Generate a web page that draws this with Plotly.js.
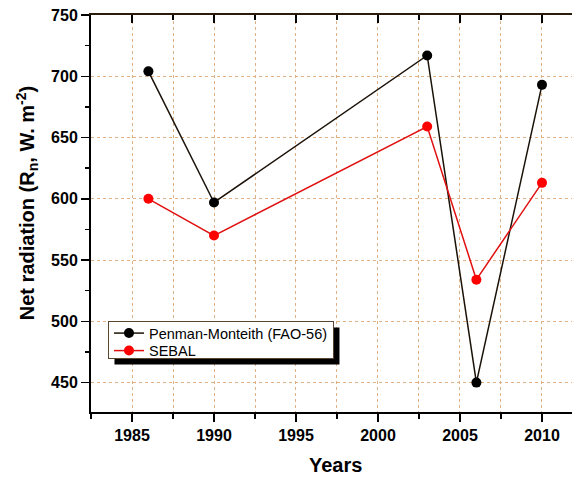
<!DOCTYPE html>
<html>
<head>
<meta charset="utf-8">
<script src="https://cdn.plot.ly/plotly-3.0.1.min.js"></script>
<style>html,body{margin:0;padding:0;background:#fff;overflow:hidden}</style>
</head>
<body>
<div id="chart" style="width:572px;height:477px"></div>
<script>
const years = [1986, 1990, 2003, 2006, 2010];
const penmanMonteith = [704, 597, 717, 450, 693];
const sebal = [600, 570, 659, 534, 613];
const seriesNames = ["Penman-Monteith (FAO-56)", "SEBAL"];
const xTickVals = [1985, 1990, 1995, 2000, 2005, 2010];
const yTickVals = [450, 500, 550, 600, 650, 700, 750];

const FONT = "Arial, 'Liberation Sans', sans-serif";
const GRID = "#deb084";

const traces = [
  {x: years, y: penmanMonteith, name: seriesNames[0], mode: "lines+markers",
   line: {color: "#1a1208", width: 1.5}, marker: {color: "#000", size: 10}},
  {x: years, y: sebal, name: seriesNames[1], mode: "lines+markers",
   line: {color: "#e01010", width: 1.5}, marker: {color: "#ff0000", size: 10}},
  {x: years, y: sebal, xaxis: "x2", mode: "markers", marker: {opacity: 0},
   showlegend: false, hoverinfo: "skip"}
];

const layout = {
  width: 572, height: 477,
  margin: {l: 91, r: 0, t: 15, b: 65},
  paper_bgcolor: "#fff", plot_bgcolor: "#fff",
  font: {family: FONT, color: "#000"},
  showlegend: true,
  xaxis: {
    range: [1982.5, 2011.83], tickvals: xTickVals, ticktext: xTickVals.map(String),
    ticks: "outside", ticklen: 8, tickwidth: 1.5, tickcolor: "#000",
    showline: true, linecolor: "#000", linewidth: 2,
    showgrid: true, gridcolor: GRID, griddash: "dot", gridwidth: 1,
    minor: {dtick: 2.5, tick0: 1982.5, ticks: "outside", ticklen: 4.5, tickwidth: 1.5, tickcolor: "#000",
            showgrid: true, gridcolor: GRID, griddash: "dot", gridwidth: 1},
    tickfont: {family: FONT, size: 16, weight: "bold", color: "#000"},
    zeroline: false
  },
  xaxis2: {
    matches: "x", overlaying: "x", side: "top", anchor: "y",
    tickvals: xTickVals, showticklabels: false,
    ticks: "inside", ticklen: 8, tickwidth: 1.5, tickcolor: "#000",
    minor: {dtick: 2.5, tick0: 1982.5, ticks: "inside", ticklen: 5, tickwidth: 1.5, tickcolor: "#000", showgrid: false},
    showline: true, linecolor: "#2a1c0c", linewidth: 2, showgrid: false, zeroline: false
  },
  yaxis: {
    range: [426, 750], tickvals: yTickVals, ticktext: yTickVals.map(String),
    ticks: "outside", ticklen: 8, tickwidth: 1.5, tickcolor: "#000",
    showline: true, linecolor: "#000", linewidth: 2,
    showgrid: true, gridcolor: GRID, griddash: "dot", gridwidth: 1,
    minor: {dtick: 25, tick0: 425, ticks: "outside", ticklen: 4.5, tickwidth: 1.5, tickcolor: "#000", showgrid: false},
    tickfont: {family: FONT, size: 16, weight: "bold", color: "#000"},
    zeroline: false
  },
  legend: {
    x: 0.0353, y: 0.229, xanchor: "left", yanchor: "top",
    bgcolor: "#fff", bordercolor: "#5a4630", borderwidth: 1,
    font: {family: FONT, size: 14.5, color: "#000"},
    tracegroupgap: 0
  },
  annotations: [
    {text: "Net radiation (R<sub>n</sub>, W. m<sup>-2</sup>)", textangle: -90,
     xref: "paper", yref: "paper", x: -0.133, y: 0.526, xanchor: "center", yanchor: "middle",
     showarrow: false, font: {family: FONT, size: 20, weight: "bold", color: "#000"}},
    {text: "Years", xref: "paper", yref: "paper", x: 0.509, y: -0.1335,
     xanchor: "center", yanchor: "middle", showarrow: false,
     font: {family: FONT, size: 20, weight: "bold", color: "#000"}}
  ]
};

function compactLegend(gd) {
  const leg = gd.querySelector(".legend");
  if (!leg) return null;
  const bg = leg.querySelector("rect.bg");
  const bgR = bg.getBoundingClientRect();
  const items = leg.querySelectorAll("g.traces");
  items.forEach(function (it, i) {
    const pts = it.querySelector(".legendpoints");
    if (!pts) return;
    const pr = pts.getBoundingClientRect();
    const cy = pr.top + pr.height / 2;
    const target = bgR.top + 11.5 + i * 17.5;
    const m = /translate\(\s*([-\d.e]+)[\s,]*([-\d.e]+)?\s*\)/.exec(it.getAttribute("transform") || "translate(0,0)");
    const tx = m ? +m[1] : 0, ty = m && m[2] ? +m[2] : 0;
    it.setAttribute("transform", "translate(" + tx + "," + (ty + target - cy) + ")");
  });
  bg.setAttribute("height", 37);
  return bg.getBoundingClientRect();
}

Plotly.newPlot("chart", traces, layout, {staticPlot: true, displayModeBar: false}).then(function (gd) {
  const r = compactLegend(gd);
  if (!r) return;
  const g = gd.getBoundingClientRect();
  const s = gd._fullLayout._size;
  const off = 6;
  const px2x = function (px) { return (px - s.l) / s.w; };
  const px2y = function (py) { return 1 - (py - s.t) / s.h; };
  const left = r.left - g.left, top = r.top - g.top;
  return Plotly.relayout(gd, {shapes: [{
    type: "rect", xref: "paper", yref: "paper", layer: "above",
    x0: px2x(left + off), x1: px2x(left + r.width + off),
    y0: px2y(top + off), y1: px2y(top + r.height + off),
    fillcolor: "#000", line: {width: 0}
  }]});
});
</script>
</body>
</html>
